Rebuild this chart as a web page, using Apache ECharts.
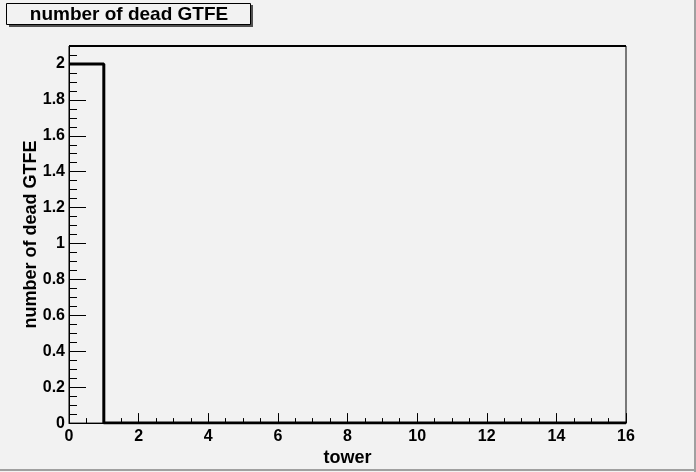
<!DOCTYPE html>
<html><head><meta charset="utf-8">
<script src="https://cdn.jsdelivr.net/npm/echarts@6/dist/echarts.min.js"></script>
<style>html,body{margin:0;padding:0;background:#f2f2f2}#c{width:696px;height:472px}</style>
</head><body><div id="c"></div>
<script>
const titleText = "number of dead GTFE";
const xTitle = "tower";
const yTitle = "number of dead GTFE";
const binEdges = [0,1,2,3,4,5,6,7,8,9,10,11,12,13,14,15,16];
const binValues = [2,0,0,0,0,0,0,0,0,0,0,0,0,0,0,0];
const yMax = 2.1;

const path = [];
for (let i = 0; i < binValues.length; i++) {
  path.push([binEdges[i], binValues[i]]);
  path.push([binEdges[i+1], binValues[i]]);
}
const font = 'Liberation Sans, Arial, Helvetica, sans-serif';
const chart = echarts.init(document.getElementById('c'), null, {renderer:'canvas'});
chart.setOption({
  backgroundColor: '#f2f2f2',
  animation: false,
  grid: {left: 69, right: 70, top: 46, bottom: 47, show: true, borderColor: '#000', borderWidth: 1, backgroundColor: 'transparent'},
  xAxis: [{
    type: 'value', min: binEdges[0], max: binEdges[binEdges.length-1], interval: 2,
    name: xTitle, nameLocation: 'middle', nameGap: 21,
    nameTextStyle: {fontFamily: font, fontWeight: 'bold', fontSize: 18, color: '#000'},
    axisLine: {show: true, lineStyle: {color: '#000', width: 1}},
    axisTick: {show: true, inside: true, length: 10, lineStyle: {color: '#000'}},
    minorTick: {show: true, splitNumber: 4, length: 5, lineStyle: {color: '#000'}},
    axisLabel: {fontFamily: font, fontWeight: 'bold', fontSize: 16, color: '#000', margin: 5},
    splitLine: {show: false}
  }],
  yAxis: [{
    type: 'value', min: 0, max: yMax, interval: 0.2,
    name: yTitle, nameLocation: 'middle', nameGap: 29, nameRotate: 90, nameMoveOverlap: false,
    nameTextStyle: {fontFamily: font, fontWeight: 'bold', fontSize: 18, color: '#000'},
    axisLine: {show: true, lineStyle: {color: '#000', width: 1}},
    axisTick: {show: true, inside: true, length: 17, lineStyle: {color: '#000'}},
    axisLabel: {fontFamily: font, fontWeight: 'bold', fontSize: 16, color: '#000', margin: 4, showMaxLabel: false,
      formatter: v => (Math.abs(v - yMax) < 1e-9 ? '' : String(Math.round(v*10)/10))},
    splitLine: {show: false}
  }, {
    type: 'value', min: 0, max: yMax, interval: 0.05, position: 'left', offset: 0,
    axisLine: {show: false},
    axisTick: {show: true, inside: true, length: 8, lineStyle: {color: '#000'}},
    axisLabel: {show: false},
    splitLine: {show: false}
  }],
  series: [{
    type: 'line', data: path, yAxisIndex: 0, showSymbol: false, symbol: 'none',
    lineStyle: {color: '#000', width: 3}, clip: true
  }],
  graphic: [
    {type: 'rect', shape: {x: 9, y: 5, width: 244, height: 22}, style: {fill: '#505050'}},
    {type: 'rect', shape: {x: 6.5, y: 3.5, width: 244, height: 21}, style: {fill: '#f2f2f2', stroke: '#000', lineWidth: 1}},
    {type: 'text', x: 129, y: 15, style: {text: titleText, fontFamily: font, fontWeight: 'bold', fontSize: 19, fill: '#000', align: 'center', verticalAlign: 'middle'}},
    {type: 'line', shape: {x1: 69, y1: 46, x2: 626, y2: 46}, style: {stroke: '#000', lineWidth: 2}},
    {type: 'line', shape: {x1: 695, y1: 0, x2: 695, y2: 472}, style: {stroke: '#a0a0a0', lineWidth: 2}},
    {type: 'line', shape: {x1: 0, y1: 470, x2: 696, y2: 470}, style: {stroke: '#a0a0a0', lineWidth: 2}}
  ]
});
</script></body></html>
